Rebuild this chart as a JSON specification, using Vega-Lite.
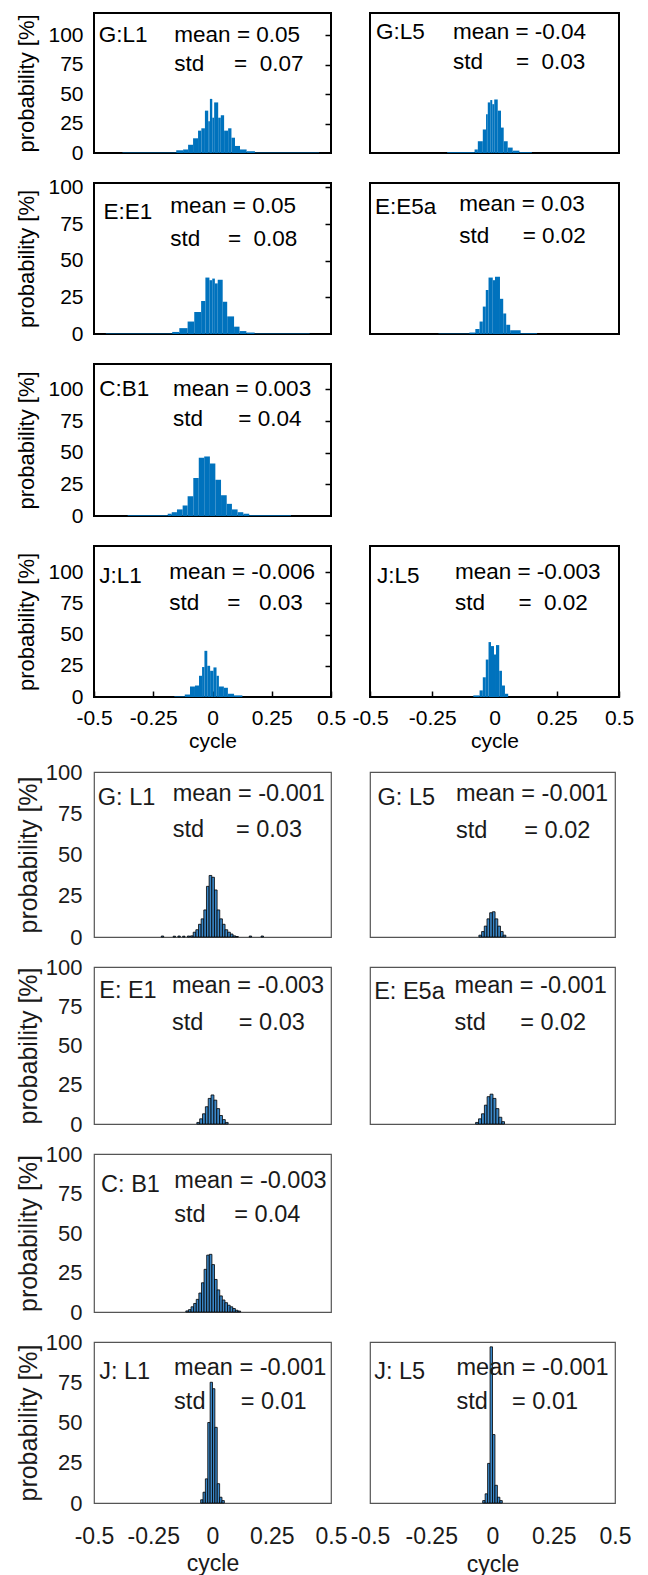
{
"$schema":"https://vega.github.io/schema/vega-lite/v6.json",
"padding":{"left":14,"top":12,"right":0,"bottom":0},
"config":{"font":"Liberation Sans","view":{"stroke":null},"axis":{"grid":false,"domain":false,"labelOverlap":false}},
"datasets":{
"hist":[
{"panel":"t1L","lo":-0.38,"hi":-0.153,"p":0.5},{"panel":"t1L","lo":-0.153,"hi":-0.124,"p":2.3},{"panel":"t1L","lo":-0.124,"hi":-0.103,"p":3},{"panel":"t1L","lo":-0.103,"hi":-0.082,"p":7},{"panel":"t1L","lo":-0.082,"hi":-0.061,"p":12.5},{"panel":"t1L","lo":-0.061,"hi":-0.047,"p":19},{"panel":"t1L","lo":-0.047,"hi":-0.032,"p":21},{"panel":"t1L","lo":-0.032,"hi":-0.018,"p":36},{"panel":"t1L","lo":-0.018,"hi":-0.011,"p":27},{"panel":"t1L","lo":-0.011,"hi":-0.001,"p":46},{"panel":"t1L","lo":-0.001,"hi":0.007,"p":30},{"panel":"t1L","lo":0.007,"hi":0.024,"p":43},{"panel":"t1L","lo":0.024,"hi":0.035,"p":30},{"panel":"t1L","lo":0.035,"hi":0.049,"p":32},{"panel":"t1L","lo":0.049,"hi":0.066,"p":19},{"panel":"t1L","lo":0.066,"hi":0.08,"p":21},{"panel":"t1L","lo":0.08,"hi":0.095,"p":13},{"panel":"t1L","lo":0.095,"hi":0.116,"p":6},{"panel":"t1L","lo":0.116,"hi":0.144,"p":3},{"panel":"t1L","lo":0.144,"hi":0.179,"p":1.5},{"panel":"t1L","lo":0.179,"hi":0.45,"p":0.5},
{"panel":"t1R","lo":-0.19,"hi":-0.08,"p":0.7},{"panel":"t1R","lo":-0.08,"hi":-0.067,"p":3},{"panel":"t1R","lo":-0.067,"hi":-0.047,"p":10},{"panel":"t1R","lo":-0.047,"hi":-0.034,"p":20},{"panel":"t1R","lo":-0.034,"hi":-0.027,"p":33},{"panel":"t1R","lo":-0.027,"hi":-0.017,"p":43},{"panel":"t1R","lo":-0.017,"hi":-0.009,"p":45},{"panel":"t1R","lo":-0.009,"hi":-0.001,"p":41.5},{"panel":"t1R","lo":-0.001,"hi":0.013,"p":45.5},{"panel":"t1R","lo":0.013,"hi":0.026,"p":36},{"panel":"t1R","lo":0.026,"hi":0.037,"p":21.6},{"panel":"t1R","lo":0.037,"hi":0.053,"p":10},{"panel":"t1R","lo":0.053,"hi":0.073,"p":4.6},{"panel":"t1R","lo":0.073,"hi":0.1,"p":2},{"panel":"t1R","lo":0.1,"hi":0.15,"p":0.7},
{"panel":"t2L","lo":-0.45,"hi":-0.17,"p":0.3},{"panel":"t2L","lo":-0.17,"hi":-0.14,"p":1.4},{"panel":"t2L","lo":-0.14,"hi":-0.105,"p":4},{"panel":"t2L","lo":-0.105,"hi":-0.077,"p":8.5},{"panel":"t2L","lo":-0.077,"hi":-0.048,"p":15},{"panel":"t2L","lo":-0.048,"hi":-0.03,"p":22.5},{"panel":"t2L","lo":-0.03,"hi":-0.013,"p":38.5},{"panel":"t2L","lo":-0.013,"hi":-0.001,"p":36.7},{"panel":"t2L","lo":-0.001,"hi":0.01,"p":37.8},{"panel":"t2L","lo":0.01,"hi":0.022,"p":34.5},{"panel":"t2L","lo":0.022,"hi":0.043,"p":37},{"panel":"t2L","lo":0.043,"hi":0.062,"p":22},{"panel":"t2L","lo":0.062,"hi":0.091,"p":12},{"panel":"t2L","lo":0.091,"hi":0.114,"p":5},{"panel":"t2L","lo":0.114,"hi":0.143,"p":2},{"panel":"t2L","lo":0.143,"hi":0.178,"p":1},{"panel":"t2L","lo":0.178,"hi":0.41,"p":0.3},
{"panel":"t2R","lo":-0.225,"hi":-0.101,"p":0.3},{"panel":"t2R","lo":-0.101,"hi":-0.077,"p":1},{"panel":"t2R","lo":-0.077,"hi":-0.06,"p":3.4},{"panel":"t2R","lo":-0.06,"hi":-0.047,"p":8.5},{"panel":"t2R","lo":-0.047,"hi":-0.035,"p":18.7},{"panel":"t2R","lo":-0.035,"hi":-0.024,"p":30},{"panel":"t2R","lo":-0.024,"hi":-0.007,"p":38.5},{"panel":"t2R","lo":-0.007,"hi":0.002,"p":36.7},{"panel":"t2R","lo":0.002,"hi":0.022,"p":39},{"panel":"t2R","lo":0.022,"hi":0.035,"p":24},{"panel":"t2R","lo":0.035,"hi":0.047,"p":14},{"panel":"t2R","lo":0.047,"hi":0.063,"p":6.3},{"panel":"t2R","lo":0.063,"hi":0.105,"p":2.5},{"panel":"t2R","lo":0.105,"hi":0.171,"p":0.5},
{"panel":"t3L","lo":-0.358,"hi":-0.189,"p":0.5},{"panel":"t3L","lo":-0.189,"hi":-0.172,"p":1.8},{"panel":"t3L","lo":-0.172,"hi":-0.15,"p":3},{"panel":"t3L","lo":-0.15,"hi":-0.126,"p":5.2},{"panel":"t3L","lo":-0.126,"hi":-0.105,"p":8.3},{"panel":"t3L","lo":-0.105,"hi":-0.081,"p":15.6},{"panel":"t3L","lo":-0.081,"hi":-0.058,"p":30},{"panel":"t3L","lo":-0.058,"hi":-0.035,"p":46},{"panel":"t3L","lo":-0.035,"hi":-0.011,"p":47},{"panel":"t3L","lo":-0.011,"hi":0.012,"p":41.5},{"panel":"t3L","lo":0.012,"hi":0.036,"p":28.6},{"panel":"t3L","lo":0.036,"hi":0.06,"p":16.4},{"panel":"t3L","lo":0.06,"hi":0.082,"p":9.6},{"panel":"t3L","lo":0.082,"hi":0.106,"p":5.2},{"panel":"t3L","lo":0.106,"hi":0.13,"p":3},{"panel":"t3L","lo":0.13,"hi":0.155,"p":1.8},{"panel":"t3L","lo":0.155,"hi":0.331,"p":0.6},
{"panel":"t4L","lo":-0.161,"hi":-0.117,"p":0.5},{"panel":"t4L","lo":-0.117,"hi":-0.095,"p":2},{"panel":"t4L","lo":-0.095,"hi":-0.074,"p":8.4},{"panel":"t4L","lo":-0.074,"hi":-0.057,"p":9.2},{"panel":"t4L","lo":-0.057,"hi":-0.044,"p":17},{"panel":"t4L","lo":-0.044,"hi":-0.034,"p":24},{"panel":"t4L","lo":-0.034,"hi":-0.022,"p":37},{"panel":"t4L","lo":-0.022,"hi":-0.01,"p":25},{"panel":"t4L","lo":-0.01,"hi":0.004,"p":21},{"panel":"t4L","lo":0.004,"hi":0.017,"p":23.7},{"panel":"t4L","lo":0.017,"hi":0.027,"p":17},{"panel":"t4L","lo":0.027,"hi":0.048,"p":8.4},{"panel":"t4L","lo":0.048,"hi":0.065,"p":7.4},{"panel":"t4L","lo":0.065,"hi":0.091,"p":2.6},{"panel":"t4L","lo":0.091,"hi":0.126,"p":1.3},
{"panel":"t4R","lo":-0.085,"hi":-0.06,"p":1.3},{"panel":"t4R","lo":-0.06,"hi":-0.047,"p":5.3},{"panel":"t4R","lo":-0.047,"hi":-0.035,"p":15.8},{"panel":"t4R","lo":-0.035,"hi":-0.024,"p":30},{"panel":"t4R","lo":-0.024,"hi":-0.014,"p":44},{"panel":"t4R","lo":-0.014,"hi":-0.002,"p":40.8},{"panel":"t4R","lo":-0.002,"hi":0.006,"p":34},{"panel":"t4R","lo":0.006,"hi":0.019,"p":41.6},{"panel":"t4R","lo":0.019,"hi":0.03,"p":21},{"panel":"t4R","lo":0.03,"hi":0.042,"p":9.2},{"panel":"t4R","lo":0.042,"hi":0.055,"p":2.6},
{"panel":"b1L","lo":-0.216,"hi":-0.206,"p":0.6},{"panel":"b1L","lo":-0.166,"hi":-0.156,"p":0.5},{"panel":"b1L","lo":-0.146,"hi":-0.136,"p":0.6},{"panel":"b1L","lo":-0.126,"hi":-0.116,"p":0.5},{"panel":"b1L","lo":-0.106,"hi":-0.096,"p":0.6},
{"panel":"b1L","lo":-0.0926,"hi":-0.0814,"p":0.7},{"panel":"b1L","lo":-0.0814,"hi":-0.0702,"p":2.9},{"panel":"b1L","lo":-0.0702,"hi":-0.059,"p":4.4},{"panel":"b1L","lo":-0.059,"hi":-0.0478,"p":7.7},{"panel":"b1L","lo":-0.0478,"hi":-0.0366,"p":11},{"panel":"b1L","lo":-0.0366,"hi":-0.0254,"p":16.4},{"panel":"b1L","lo":-0.0254,"hi":-0.0142,"p":30.7},{"panel":"b1L","lo":-0.0142,"hi":-0.003,"p":37.3},{"panel":"b1L","lo":-0.003,"hi":0.0082,"p":36.2},{"panel":"b1L","lo":0.0082,"hi":0.0194,"p":28.5},{"panel":"b1L","lo":0.0194,"hi":0.0306,"p":16.4},{"panel":"b1L","lo":0.0306,"hi":0.0418,"p":11},{"panel":"b1L","lo":0.0418,"hi":0.053,"p":7.7},{"panel":"b1L","lo":0.053,"hi":0.0642,"p":4.4},{"panel":"b1L","lo":0.0642,"hi":0.0754,"p":2.9},{"panel":"b1L","lo":0.0754,"hi":0.0866,"p":1.8},{"panel":"b1L","lo":0.0866,"hi":0.0978,"p":0.7},{"panel":"b1L","lo":0.0978,"hi":0.109,"p":0.3},{"panel":"b1L","lo":0.155,"hi":0.165,"p":0.6},{"panel":"b1L","lo":0.205,"hi":0.215,"p":0.6},
{"panel":"b1R","lo":-0.0555,"hi":-0.0445,"p":1.1},{"panel":"b1R","lo":-0.0445,"hi":-0.0335,"p":3.3},{"panel":"b1R","lo":-0.0335,"hi":-0.0225,"p":6.6},{"panel":"b1R","lo":-0.0225,"hi":-0.0115,"p":11},{"panel":"b1R","lo":-0.0115,"hi":-0.0005,"p":14.7},{"panel":"b1R","lo":-0.0005,"hi":0.0105,"p":15.3},{"panel":"b1R","lo":0.0105,"hi":0.0215,"p":11},{"panel":"b1R","lo":0.0215,"hi":0.0325,"p":6.6},{"panel":"b1R","lo":0.0325,"hi":0.0435,"p":3.3},{"panel":"b1R","lo":0.0435,"hi":0.0545,"p":1.1},
{"panel":"b2L","lo":-0.066,"hi":-0.054,"p":1},{"panel":"b2L","lo":-0.054,"hi":-0.042,"p":3.3},{"panel":"b2L","lo":-0.042,"hi":-0.03,"p":6.5},{"panel":"b2L","lo":-0.03,"hi":-0.018,"p":11},{"panel":"b2L","lo":-0.018,"hi":-0.006,"p":16.3},{"panel":"b2L","lo":-0.006,"hi":0.006,"p":18.5},{"panel":"b2L","lo":0.006,"hi":0.018,"p":15.2},{"panel":"b2L","lo":0.018,"hi":0.03,"p":9.8},{"panel":"b2L","lo":0.03,"hi":0.042,"p":5.4},{"panel":"b2L","lo":0.042,"hi":0.054,"p":2.8},{"panel":"b2L","lo":0.054,"hi":0.066,"p":1},
{"panel":"b2R","lo":-0.069,"hi":-0.057,"p":1},{"panel":"b2R","lo":-0.057,"hi":-0.045,"p":3.3},{"panel":"b2R","lo":-0.045,"hi":-0.033,"p":6.5},{"panel":"b2R","lo":-0.033,"hi":-0.022,"p":12},{"panel":"b2R","lo":-0.022,"hi":-0.01,"p":17.4},{"panel":"b2R","lo":-0.01,"hi":0.002,"p":19},{"panel":"b2R","lo":0.002,"hi":0.014,"p":16.3},{"panel":"b2R","lo":0.014,"hi":0.026,"p":9.8},{"panel":"b2R","lo":0.026,"hi":0.038,"p":4.3},{"panel":"b2R","lo":0.038,"hi":0.049,"p":1.5},
{"panel":"b3L","lo":-0.1125,"hi":-0.1015,"p":0.7},{"panel":"b3L","lo":-0.1015,"hi":-0.0905,"p":1.5},{"panel":"b3L","lo":-0.0905,"hi":-0.0795,"p":3.3},{"panel":"b3L","lo":-0.0795,"hi":-0.0685,"p":5.4},{"panel":"b3L","lo":-0.0685,"hi":-0.0575,"p":8},{"panel":"b3L","lo":-0.0575,"hi":-0.0465,"p":12},{"panel":"b3L","lo":-0.0465,"hi":-0.0355,"p":18.5},{"panel":"b3L","lo":-0.0355,"hi":-0.0245,"p":27},{"panel":"b3L","lo":-0.0245,"hi":-0.0135,"p":36},{"panel":"b3L","lo":-0.0135,"hi":-0.0025,"p":36.5},{"panel":"b3L","lo":-0.0025,"hi":0.0085,"p":30},{"panel":"b3L","lo":0.0085,"hi":0.0195,"p":20.6},{"panel":"b3L","lo":0.0195,"hi":0.0305,"p":14},{"panel":"b3L","lo":0.0305,"hi":0.0415,"p":10.2},{"panel":"b3L","lo":0.0415,"hi":0.0525,"p":7.6},{"panel":"b3L","lo":0.0525,"hi":0.0635,"p":5.9},{"panel":"b3L","lo":0.0635,"hi":0.0745,"p":4.3},{"panel":"b3L","lo":0.0745,"hi":0.0855,"p":3.3},{"panel":"b3L","lo":0.0855,"hi":0.0965,"p":2.2},{"panel":"b3L","lo":0.0965,"hi":0.1075,"p":1.1},{"panel":"b3L","lo":0.1075,"hi":0.1185,"p":0.6},
{"panel":"b4L","lo":-0.05,"hi":-0.04,"p":2},{"panel":"b4L","lo":-0.04,"hi":-0.03,"p":6.7},{"panel":"b4L","lo":-0.03,"hi":-0.02,"p":15},{"panel":"b4L","lo":-0.02,"hi":-0.01,"p":50},{"panel":"b4L","lo":-0.01,"hi":0,"p":75},{"panel":"b4L","lo":0,"hi":0.01,"p":71},{"panel":"b4L","lo":0.01,"hi":0.02,"p":47},{"panel":"b4L","lo":0.02,"hi":0.03,"p":12},{"panel":"b4L","lo":0.03,"hi":0.04,"p":3.6},{"panel":"b4L","lo":0.04,"hi":0.05,"p":1.5},
{"panel":"b4R","lo":-0.04,"hi":-0.03,"p":1.5},{"panel":"b4R","lo":-0.03,"hi":-0.02,"p":5.7},{"panel":"b4R","lo":-0.02,"hi":-0.01,"p":24.6},{"panel":"b4R","lo":-0.01,"hi":0,"p":97},{"panel":"b4R","lo":0,"hi":0.01,"p":42.5},{"panel":"b4R","lo":0.01,"hi":0.02,"p":11},{"panel":"b4R","lo":0.02,"hi":0.03,"p":3.6},{"panel":"b4R","lo":0.03,"hi":0.04,"p":1.5}
],
"notes":[
{"panel":"t1L","name":"G:L1","mean":"mean = 0.05","std":"std","val":"=\u00a0\u00a00.07"},
{"panel":"t1R","name":"G:L5","mean":"mean = -0.04","std":"std","val":"=\u00a0\u00a00.03"},
{"panel":"t2L","name":"E:E1","mean":"mean = 0.05","std":"std","val":"=\u00a0\u00a00.08"},
{"panel":"t2R","name":"E:E5a","mean":"mean = 0.03","std":"std","val":"= 0.02"},
{"panel":"t3L","name":"C:B1","mean":"mean = 0.003","std":"std","val":"= 0.04"},
{"panel":"t4L","name":"J:L1","mean":"mean = -0.006","std":"std","val":"=\u00a0\u00a0\u00a00.03"},
{"panel":"t4R","name":"J:L5","mean":"mean = -0.003","std":"std","val":"=\u00a0\u00a00.02"},
{"panel":"b1L","name":"G: L1","mean":"mean = -0.001","std":"std","val":"= 0.03"},
{"panel":"b1R","name":"G: L5","mean":"mean = -0.001","std":"std","val":"= 0.02"},
{"panel":"b2L","name":"E: E1","mean":"mean = -0.003","std":"std","val":"= 0.03"},
{"panel":"b2R","name":"E: E5a","mean":"mean = -0.001","std":"std","val":"= 0.02"},
{"panel":"b3L","name":"C: B1","mean":"mean = -0.003","std":"std","val":"= 0.04"},
{"panel":"b4L","name":"J: L1","mean":"mean = -0.001","std":"std","val":"= 0.01"},
{"panel":"b4R","name":"J: L5","mean":"mean = -0.001","std":"std","val":"= 0.01"}
]
},
"columns":2,
"align":"each",
"bounds":"flush",
"spacing":{"row":30,"column":39},
"concat":[
{"width":237,"height":140,"view":{"stroke":"#000","strokeWidth":2},"resolve":{"axis":{"x":"independent","y":"independent"}},"layer":[
{"data":{"name":"hist"},"transform":[{"filter":"datum.panel==='t1L'"}],"mark":{"type":"bar","color":"#0072BD"},"encoding":{"x":{"field":"lo","type":"quantitative","scale":{"domain":[-0.5,0.5],"nice":false,"zero":false},"axis":null},"x2":{"field":"hi"},"y":{"field":"p","type":"quantitative","scale":{"domain":[0,119],"nice":false},"axis":{"values":[0,25,50,75,100],"ticks":false,"labelFontSize":21,"labelPadding":11,"labelColor":"#000","title":"probability [%]","titleFontSize":22,"titleFontWeight":"normal","titleColor":"#000","titlePadding":9}},"y2":{"datum":0}}},
{"data":{"name":"notes"},"transform":[{"filter":"datum.panel==='t1L'"}],"mark":{"type":"text","align":"left","baseline":"middle","fontSize":22.5,"color":"#000"},"encoding":{"x":{"datum":-0.48,"type":"quantitative","axis":null},"y":{"datum":100,"type":"quantitative","axis":{"orient":"right","values":[25,50,75,100],"labels":false,"ticks":true,"tickSize":-6,"tickColor":"#000","tickWidth":1.5,"title":null}},"text":{"field":"name"}}},
{"data":{"name":"notes"},"transform":[{"filter":"datum.panel==='t1L'"}],"mark":{"type":"text","align":"left","baseline":"middle","fontSize":22.5,"color":"#000"},"encoding":{"x":{"datum":-0.161,"type":"quantitative","axis":null},"y":{"datum":100,"type":"quantitative","axis":null},"text":{"field":"mean"}}},
{"data":{"name":"notes"},"transform":[{"filter":"datum.panel==='t1L'"}],"mark":{"type":"text","align":"left","baseline":"middle","fontSize":22.5,"color":"#000"},"encoding":{"x":{"datum":-0.161,"type":"quantitative","axis":null},"y":{"datum":76,"type":"quantitative","axis":null},"text":{"field":"std"}}},
{"data":{"name":"notes"},"transform":[{"filter":"datum.panel==='t1L'"}],"mark":{"type":"text","align":"left","baseline":"middle","fontSize":22.5,"color":"#000"},"encoding":{"x":{"datum":0.091,"type":"quantitative","axis":null},"y":{"datum":76,"type":"quantitative","axis":null},"text":{"field":"val"}}}
]},
{"width":249,"height":140,"view":{"stroke":"#000","strokeWidth":2},"resolve":{"axis":{"x":"independent","y":"independent"}},"layer":[
{"data":{"name":"hist"},"transform":[{"filter":"datum.panel==='t1R'"}],"mark":{"type":"bar","color":"#0072BD"},"encoding":{"x":{"field":"lo","type":"quantitative","scale":{"domain":[-0.5,0.5],"nice":false,"zero":false},"axis":null},"x2":{"field":"hi"},"y":{"field":"p","type":"quantitative","scale":{"domain":[0,119],"nice":false},"axis":null},"y2":{"datum":0}}},
{"data":{"name":"notes"},"transform":[{"filter":"datum.panel==='t1R'"}],"mark":{"type":"text","align":"left","baseline":"middle","fontSize":22.5,"color":"#000"},"encoding":{"x":{"datum":-0.476,"type":"quantitative","axis":null},"y":{"datum":102.5,"type":"quantitative","axis":null},"text":{"field":"name"}}},
{"data":{"name":"notes"},"transform":[{"filter":"datum.panel==='t1R'"}],"mark":{"type":"text","align":"left","baseline":"middle","fontSize":22.5,"color":"#000"},"encoding":{"x":{"datum":-0.167,"type":"quantitative","axis":null},"y":{"datum":102.5,"type":"quantitative","axis":null},"text":{"field":"mean"}}},
{"data":{"name":"notes"},"transform":[{"filter":"datum.panel==='t1R'"}],"mark":{"type":"text","align":"left","baseline":"middle","fontSize":22.5,"color":"#000"},"encoding":{"x":{"datum":-0.167,"type":"quantitative","axis":null},"y":{"datum":77,"type":"quantitative","axis":null},"text":{"field":"std"}}},
{"data":{"name":"notes"},"transform":[{"filter":"datum.panel==='t1R'"}],"mark":{"type":"text","align":"left","baseline":"middle","fontSize":22.5,"color":"#000"},"encoding":{"x":{"datum":0.086,"type":"quantitative","axis":null},"y":{"datum":77,"type":"quantitative","axis":null},"text":{"field":"val"}}}
]},
{"width":237,"height":151,"view":{"stroke":"#000","strokeWidth":2},"resolve":{"axis":{"x":"independent","y":"independent"}},"layer":[
{"data":{"name":"hist"},"transform":[{"filter":"datum.panel==='t2L'"}],"mark":{"type":"bar","color":"#0072BD"},"encoding":{"x":{"field":"lo","type":"quantitative","scale":{"domain":[-0.5,0.5],"nice":false,"zero":false},"axis":null},"x2":{"field":"hi"},"y":{"field":"p","type":"quantitative","scale":{"domain":[0,103],"nice":false},"axis":{"values":[0,25,50,75,100],"ticks":false,"labelFontSize":21,"labelPadding":11,"labelColor":"#000","title":"probability [%]","titleFontSize":22,"titleFontWeight":"normal","titleColor":"#000","titlePadding":9}},"y2":{"datum":0}}},
{"data":{"name":"notes"},"transform":[{"filter":"datum.panel==='t2L'"}],"mark":{"type":"text","align":"left","baseline":"middle","fontSize":22.5,"color":"#000"},"encoding":{"x":{"datum":-0.46,"type":"quantitative","axis":null},"y":{"datum":83,"type":"quantitative","axis":{"orient":"right","values":[25,50,75,100],"labels":false,"ticks":true,"tickSize":-6,"tickColor":"#000","tickWidth":1.5,"title":null}},"text":{"field":"name"}}},
{"data":{"name":"notes"},"transform":[{"filter":"datum.panel==='t2L'"}],"mark":{"type":"text","align":"left","baseline":"middle","fontSize":22.5,"color":"#000"},"encoding":{"x":{"datum":-0.178,"type":"quantitative","axis":null},"y":{"datum":87.4,"type":"quantitative","axis":null},"text":{"field":"mean"}}},
{"data":{"name":"notes"},"transform":[{"filter":"datum.panel==='t2L'"}],"mark":{"type":"text","align":"left","baseline":"middle","fontSize":22.5,"color":"#000"},"encoding":{"x":{"datum":-0.178,"type":"quantitative","axis":null},"y":{"datum":65,"type":"quantitative","axis":null},"text":{"field":"std"}}},
{"data":{"name":"notes"},"transform":[{"filter":"datum.panel==='t2L'"}],"mark":{"type":"text","align":"left","baseline":"middle","fontSize":22.5,"color":"#000"},"encoding":{"x":{"datum":0.065,"type":"quantitative","axis":null},"y":{"datum":65,"type":"quantitative","axis":null},"text":{"field":"val"}}}
]},
{"width":249,"height":151,"view":{"stroke":"#000","strokeWidth":2},"resolve":{"axis":{"x":"independent","y":"independent"}},"layer":[
{"data":{"name":"hist"},"transform":[{"filter":"datum.panel==='t2R'"}],"mark":{"type":"bar","color":"#0072BD"},"encoding":{"x":{"field":"lo","type":"quantitative","scale":{"domain":[-0.5,0.5],"nice":false,"zero":false},"axis":null},"x2":{"field":"hi"},"y":{"field":"p","type":"quantitative","scale":{"domain":[0,103],"nice":false},"axis":null},"y2":{"datum":0}}},
{"data":{"name":"notes"},"transform":[{"filter":"datum.panel==='t2R'"}],"mark":{"type":"text","align":"left","baseline":"middle","fontSize":22.5,"color":"#000"},"encoding":{"x":{"datum":-0.48,"type":"quantitative","axis":null},"y":{"datum":86.3,"type":"quantitative","axis":null},"text":{"field":"name"}}},
{"data":{"name":"notes"},"transform":[{"filter":"datum.panel==='t2R'"}],"mark":{"type":"text","align":"left","baseline":"middle","fontSize":22.5,"color":"#000"},"encoding":{"x":{"datum":-0.142,"type":"quantitative","axis":null},"y":{"datum":88.5,"type":"quantitative","axis":null},"text":{"field":"mean"}}},
{"data":{"name":"notes"},"transform":[{"filter":"datum.panel==='t2R'"}],"mark":{"type":"text","align":"left","baseline":"middle","fontSize":22.5,"color":"#000"},"encoding":{"x":{"datum":-0.142,"type":"quantitative","axis":null},"y":{"datum":67,"type":"quantitative","axis":null},"text":{"field":"std"}}},
{"data":{"name":"notes"},"transform":[{"filter":"datum.panel==='t2R'"}],"mark":{"type":"text","align":"left","baseline":"middle","fontSize":22.5,"color":"#000"},"encoding":{"x":{"datum":0.113,"type":"quantitative","axis":null},"y":{"datum":67,"type":"quantitative","axis":null},"text":{"field":"val"}}}
]},
{"width":237,"height":152,"view":{"stroke":"#000","strokeWidth":2},"resolve":{"axis":{"x":"independent","y":"independent"}},"layer":[
{"data":{"name":"hist"},"transform":[{"filter":"datum.panel==='t3L'"}],"mark":{"type":"bar","color":"#0072BD"},"encoding":{"x":{"field":"lo","type":"quantitative","scale":{"domain":[-0.5,0.5],"nice":false,"zero":false},"axis":null},"x2":{"field":"hi"},"y":{"field":"p","type":"quantitative","scale":{"domain":[0,120],"nice":false},"axis":{"values":[0,25,50,75,100],"ticks":false,"labelFontSize":21,"labelPadding":11,"labelColor":"#000","title":"probability [%]","titleFontSize":22,"titleFontWeight":"normal","titleColor":"#000","titlePadding":9}},"y2":{"datum":0}}},
{"data":{"name":"notes"},"transform":[{"filter":"datum.panel==='t3L'"}],"mark":{"type":"text","align":"left","baseline":"middle","fontSize":22.5,"color":"#000"},"encoding":{"x":{"datum":-0.478,"type":"quantitative","axis":null},"y":{"datum":100,"type":"quantitative","axis":{"orient":"right","values":[25,50,75,100],"labels":false,"ticks":true,"tickSize":-6,"tickColor":"#000","tickWidth":1.5,"title":null}},"text":{"field":"name"}}},
{"data":{"name":"notes"},"transform":[{"filter":"datum.panel==='t3L'"}],"mark":{"type":"text","align":"left","baseline":"middle","fontSize":22.5,"color":"#000"},"encoding":{"x":{"datum":-0.167,"type":"quantitative","axis":null},"y":{"datum":100,"type":"quantitative","axis":null},"text":{"field":"mean"}}},
{"data":{"name":"notes"},"transform":[{"filter":"datum.panel==='t3L'"}],"mark":{"type":"text","align":"left","baseline":"middle","fontSize":22.5,"color":"#000"},"encoding":{"x":{"datum":-0.167,"type":"quantitative","axis":null},"y":{"datum":76.6,"type":"quantitative","axis":null},"text":{"field":"std"}}},
{"data":{"name":"notes"},"transform":[{"filter":"datum.panel==='t3L'"}],"mark":{"type":"text","align":"left","baseline":"middle","fontSize":22.5,"color":"#000"},"encoding":{"x":{"datum":0.109,"type":"quantitative","axis":null},"y":{"datum":76.6,"type":"quantitative","axis":null},"text":{"field":"val"}}}
]},
{"width":249,"height":152,"data":{"values":[]},"mark":"text","encoding":{}},
{"width":237,"height":151,"view":{"stroke":"#000","strokeWidth":2},"resolve":{"axis":{"x":"independent","y":"independent"}},"layer":[
{"data":{"name":"hist"},"transform":[{"filter":"datum.panel==='t4L'"}],"mark":{"type":"bar","color":"#0072BD"},"encoding":{"x":{"field":"lo","type":"quantitative","scale":{"domain":[-0.5,0.5],"nice":false,"zero":false},"axis":{"values":[-0.5,-0.25,0,0.25,0.5],"labelExpr":"toString(datum.value)","labelFlush":false,"ticks":true,"tickSize":-6,"tickColor":"#000","tickWidth":1.5,"labelFontSize":21,"labelPadding":16,"labelColor":"#000","title":"cycle","titleFontSize":21,"titleFontWeight":"normal","titleColor":"#000","titlePadding":2}},"x2":{"field":"hi"},"y":{"field":"p","type":"quantitative","scale":{"domain":[0,121],"nice":false},"axis":{"values":[0,25,50,75,100],"ticks":false,"labelFontSize":21,"labelPadding":11,"labelColor":"#000","title":"probability [%]","titleFontSize":22,"titleFontWeight":"normal","titleColor":"#000","titlePadding":9}},"y2":{"datum":0}}},
{"data":{"name":"notes"},"transform":[{"filter":"datum.panel==='t4L'"}],"mark":{"type":"text","align":"left","baseline":"middle","fontSize":22.5,"color":"#000"},"encoding":{"x":{"datum":-0.478,"type":"quantitative","axis":null},"y":{"datum":97,"type":"quantitative","axis":{"orient":"right","values":[25,50,75,100],"labels":false,"ticks":true,"tickSize":-6,"tickColor":"#000","tickWidth":1.5,"title":null}},"text":{"field":"name"}}},
{"data":{"name":"notes"},"transform":[{"filter":"datum.panel==='t4L'"}],"mark":{"type":"text","align":"left","baseline":"middle","fontSize":22.5,"color":"#000"},"encoding":{"x":{"datum":-0.182,"type":"quantitative","axis":null},"y":{"datum":100.5,"type":"quantitative","axis":null},"text":{"field":"mean"}}},
{"data":{"name":"notes"},"transform":[{"filter":"datum.panel==='t4L'"}],"mark":{"type":"text","align":"left","baseline":"middle","fontSize":22.5,"color":"#000"},"encoding":{"x":{"datum":-0.182,"type":"quantitative","axis":null},"y":{"datum":75,"type":"quantitative","axis":null},"text":{"field":"std"}}},
{"data":{"name":"notes"},"transform":[{"filter":"datum.panel==='t4L'"}],"mark":{"type":"text","align":"left","baseline":"middle","fontSize":22.5,"color":"#000"},"encoding":{"x":{"datum":0.062,"type":"quantitative","axis":null},"y":{"datum":75,"type":"quantitative","axis":null},"text":{"field":"val"}}}
]},
{"width":249,"height":151,"view":{"stroke":"#000","strokeWidth":2},"resolve":{"axis":{"x":"independent","y":"independent"}},"layer":[
{"data":{"name":"hist"},"transform":[{"filter":"datum.panel==='t4R'"}],"mark":{"type":"bar","color":"#0072BD"},"encoding":{"x":{"field":"lo","type":"quantitative","scale":{"domain":[-0.5,0.5],"nice":false,"zero":false},"axis":{"values":[-0.5,-0.25,0,0.25,0.5],"labelExpr":"toString(datum.value)","labelFlush":false,"ticks":true,"tickSize":-6,"tickColor":"#000","tickWidth":1.5,"labelFontSize":21,"labelPadding":16,"labelColor":"#000","title":"cycle","titleFontSize":21,"titleFontWeight":"normal","titleColor":"#000","titlePadding":2}},"x2":{"field":"hi"},"y":{"field":"p","type":"quantitative","scale":{"domain":[0,121],"nice":false},"axis":null},"y2":{"datum":0}}},
{"data":{"name":"notes"},"transform":[{"filter":"datum.panel==='t4R'"}],"mark":{"type":"text","align":"left","baseline":"middle","fontSize":22.5,"color":"#000"},"encoding":{"x":{"datum":-0.472,"type":"quantitative","axis":null},"y":{"datum":97,"type":"quantitative","axis":null},"text":{"field":"name"}}},
{"data":{"name":"notes"},"transform":[{"filter":"datum.panel==='t4R'"}],"mark":{"type":"text","align":"left","baseline":"middle","fontSize":22.5,"color":"#000"},"encoding":{"x":{"datum":-0.159,"type":"quantitative","axis":null},"y":{"datum":100.5,"type":"quantitative","axis":null},"text":{"field":"mean"}}},
{"data":{"name":"notes"},"transform":[{"filter":"datum.panel==='t4R'"}],"mark":{"type":"text","align":"left","baseline":"middle","fontSize":22.5,"color":"#000"},"encoding":{"x":{"datum":-0.159,"type":"quantitative","axis":null},"y":{"datum":75,"type":"quantitative","axis":null},"text":{"field":"std"}}},
{"data":{"name":"notes"},"transform":[{"filter":"datum.panel==='t4R'"}],"mark":{"type":"text","align":"left","baseline":"middle","fontSize":22.5,"color":"#000"},"encoding":{"x":{"datum":0.096,"type":"quantitative","axis":null},"y":{"datum":75,"type":"quantitative","axis":null},"text":{"field":"val"}}}
]},
{"width":237,"height":15,"data":{"values":[]},"mark":"text","encoding":{}},
{"width":249,"height":15,"data":{"values":[]},"mark":"text","encoding":{}},
{"width":237,"height":165,"view":{"stroke":"#555","strokeWidth":1.2},"resolve":{"axis":{"x":"independent","y":"independent"}},"layer":[
{"data":{"name":"hist"},"transform":[{"filter":"datum.panel==='b1L'"}],"mark":{"type":"bar","color":"#3a86c6","stroke":"#000","strokeWidth":0.8},"encoding":{"x":{"field":"lo","type":"quantitative","scale":{"domain":[-0.5,0.5],"nice":false,"zero":false},"axis":null},"x2":{"field":"hi"},"y":{"field":"p","type":"quantitative","scale":{"domain":[0,100],"nice":false},"axis":{"values":[0,25,50,75,100],"ticks":false,"labelFontSize":22,"labelPadding":12,"labelColor":"#1a1a1a","title":"probability [%]","titleFontSize":25,"titleFontWeight":"normal","titleColor":"#1a1a1a","titlePadding":4}},"y2":{"datum":0}}},
{"data":{"name":"notes"},"transform":[{"filter":"datum.panel==='b1L'"}],"mark":{"type":"text","align":"left","baseline":"middle","fontSize":23.5,"color":"#1a1a1a"},"encoding":{"x":{"datum":-0.484,"type":"quantitative","axis":null},"y":{"datum":84.5,"type":"quantitative","axis":null},"text":{"field":"name"}}},
{"data":{"name":"notes"},"transform":[{"filter":"datum.panel==='b1L'"}],"mark":{"type":"text","align":"left","baseline":"middle","fontSize":23.5,"color":"#1a1a1a"},"encoding":{"x":{"datum":-0.168,"type":"quantitative","axis":null},"y":{"datum":86.6,"type":"quantitative","axis":null},"text":{"field":"mean"}}},
{"data":{"name":"notes"},"transform":[{"filter":"datum.panel==='b1L'"}],"mark":{"type":"text","align":"left","baseline":"middle","fontSize":23.5,"color":"#1a1a1a"},"encoding":{"x":{"datum":-0.168,"type":"quantitative","axis":null},"y":{"datum":65,"type":"quantitative","axis":null},"text":{"field":"std"}}},
{"data":{"name":"notes"},"transform":[{"filter":"datum.panel==='b1L'"}],"mark":{"type":"text","align":"left","baseline":"middle","fontSize":23.5,"color":"#1a1a1a"},"encoding":{"x":{"datum":0.099,"type":"quantitative","axis":null},"y":{"datum":65,"type":"quantitative","axis":null},"text":{"field":"val"}}}
]},
{"width":245,"height":165,"view":{"stroke":"#555","strokeWidth":1.2},"resolve":{"axis":{"x":"independent","y":"independent"}},"layer":[
{"data":{"name":"hist"},"transform":[{"filter":"datum.panel==='b1R'"}],"mark":{"type":"bar","color":"#3a86c6","stroke":"#000","strokeWidth":0.8},"encoding":{"x":{"field":"lo","type":"quantitative","scale":{"domain":[-0.5,0.5],"nice":false,"zero":false},"axis":null},"x2":{"field":"hi"},"y":{"field":"p","type":"quantitative","scale":{"domain":[0,100],"nice":false},"axis":null},"y2":{"datum":0}}},
{"data":{"name":"notes"},"transform":[{"filter":"datum.panel==='b1R'"}],"mark":{"type":"text","align":"left","baseline":"middle","fontSize":23.5,"color":"#1a1a1a"},"encoding":{"x":{"datum":-0.469,"type":"quantitative","axis":null},"y":{"datum":84.4,"type":"quantitative","axis":null},"text":{"field":"name"}}},
{"data":{"name":"notes"},"transform":[{"filter":"datum.panel==='b1R'"}],"mark":{"type":"text","align":"left","baseline":"middle","fontSize":23.5,"color":"#1a1a1a"},"encoding":{"x":{"datum":-0.149,"type":"quantitative","axis":null},"y":{"datum":86.6,"type":"quantitative","axis":null},"text":{"field":"mean"}}},
{"data":{"name":"notes"},"transform":[{"filter":"datum.panel==='b1R'"}],"mark":{"type":"text","align":"left","baseline":"middle","fontSize":23.5,"color":"#1a1a1a"},"encoding":{"x":{"datum":-0.149,"type":"quantitative","axis":null},"y":{"datum":64.3,"type":"quantitative","axis":null},"text":{"field":"std"}}},
{"data":{"name":"notes"},"transform":[{"filter":"datum.panel==='b1R'"}],"mark":{"type":"text","align":"left","baseline":"middle","fontSize":23.5,"color":"#1a1a1a"},"encoding":{"x":{"datum":0.13,"type":"quantitative","axis":null},"y":{"datum":64.3,"type":"quantitative","axis":null},"text":{"field":"val"}}}
]},
{"width":237,"height":157,"view":{"stroke":"#555","strokeWidth":1.2},"resolve":{"axis":{"x":"independent","y":"independent"}},"layer":[
{"data":{"name":"hist"},"transform":[{"filter":"datum.panel==='b2L'"}],"mark":{"type":"bar","color":"#3a86c6","stroke":"#000","strokeWidth":0.8},"encoding":{"x":{"field":"lo","type":"quantitative","scale":{"domain":[-0.5,0.5],"nice":false,"zero":false},"axis":null},"x2":{"field":"hi"},"y":{"field":"p","type":"quantitative","scale":{"domain":[0,100],"nice":false},"axis":{"values":[0,25,50,75,100],"ticks":false,"labelFontSize":22,"labelPadding":12,"labelColor":"#1a1a1a","title":"probability [%]","titleFontSize":25,"titleFontWeight":"normal","titleColor":"#1a1a1a","titlePadding":4}},"y2":{"datum":0}}},
{"data":{"name":"notes"},"transform":[{"filter":"datum.panel==='b2L'"}],"mark":{"type":"text","align":"left","baseline":"middle","fontSize":23.5,"color":"#1a1a1a"},"encoding":{"x":{"datum":-0.478,"type":"quantitative","axis":null},"y":{"datum":85,"type":"quantitative","axis":null},"text":{"field":"name"}}},
{"data":{"name":"notes"},"transform":[{"filter":"datum.panel==='b2L'"}],"mark":{"type":"text","align":"left","baseline":"middle","fontSize":23.5,"color":"#1a1a1a"},"encoding":{"x":{"datum":-0.171,"type":"quantitative","axis":null},"y":{"datum":88,"type":"quantitative","axis":null},"text":{"field":"mean"}}},
{"data":{"name":"notes"},"transform":[{"filter":"datum.panel==='b2L'"}],"mark":{"type":"text","align":"left","baseline":"middle","fontSize":23.5,"color":"#1a1a1a"},"encoding":{"x":{"datum":-0.171,"type":"quantitative","axis":null},"y":{"datum":64.5,"type":"quantitative","axis":null},"text":{"field":"std"}}},
{"data":{"name":"notes"},"transform":[{"filter":"datum.panel==='b2L'"}],"mark":{"type":"text","align":"left","baseline":"middle","fontSize":23.5,"color":"#1a1a1a"},"encoding":{"x":{"datum":0.111,"type":"quantitative","axis":null},"y":{"datum":64.5,"type":"quantitative","axis":null},"text":{"field":"val"}}}
]},
{"width":245,"height":157,"view":{"stroke":"#555","strokeWidth":1.2},"resolve":{"axis":{"x":"independent","y":"independent"}},"layer":[
{"data":{"name":"hist"},"transform":[{"filter":"datum.panel==='b2R'"}],"mark":{"type":"bar","color":"#3a86c6","stroke":"#000","strokeWidth":0.8},"encoding":{"x":{"field":"lo","type":"quantitative","scale":{"domain":[-0.5,0.5],"nice":false,"zero":false},"axis":null},"x2":{"field":"hi"},"y":{"field":"p","type":"quantitative","scale":{"domain":[0,100],"nice":false},"axis":null},"y2":{"datum":0}}},
{"data":{"name":"notes"},"transform":[{"filter":"datum.panel==='b2R'"}],"mark":{"type":"text","align":"left","baseline":"middle","fontSize":23.5,"color":"#1a1a1a"},"encoding":{"x":{"datum":-0.483,"type":"quantitative","axis":null},"y":{"datum":84,"type":"quantitative","axis":null},"text":{"field":"name"}}},
{"data":{"name":"notes"},"transform":[{"filter":"datum.panel==='b2R'"}],"mark":{"type":"text","align":"left","baseline":"middle","fontSize":23.5,"color":"#1a1a1a"},"encoding":{"x":{"datum":-0.155,"type":"quantitative","axis":null},"y":{"datum":88,"type":"quantitative","axis":null},"text":{"field":"mean"}}},
{"data":{"name":"notes"},"transform":[{"filter":"datum.panel==='b2R'"}],"mark":{"type":"text","align":"left","baseline":"middle","fontSize":23.5,"color":"#1a1a1a"},"encoding":{"x":{"datum":-0.155,"type":"quantitative","axis":null},"y":{"datum":64.5,"type":"quantitative","axis":null},"text":{"field":"std"}}},
{"data":{"name":"notes"},"transform":[{"filter":"datum.panel==='b2R'"}],"mark":{"type":"text","align":"left","baseline":"middle","fontSize":23.5,"color":"#1a1a1a"},"encoding":{"x":{"datum":0.113,"type":"quantitative","axis":null},"y":{"datum":64.5,"type":"quantitative","axis":null},"text":{"field":"val"}}}
]},
{"width":237,"height":158,"view":{"stroke":"#555","strokeWidth":1.2},"resolve":{"axis":{"x":"independent","y":"independent"}},"layer":[
{"data":{"name":"hist"},"transform":[{"filter":"datum.panel==='b3L'"}],"mark":{"type":"bar","color":"#3a86c6","stroke":"#000","strokeWidth":0.8},"encoding":{"x":{"field":"lo","type":"quantitative","scale":{"domain":[-0.5,0.5],"nice":false,"zero":false},"axis":null},"x2":{"field":"hi"},"y":{"field":"p","type":"quantitative","scale":{"domain":[0,100],"nice":false},"axis":{"values":[0,25,50,75,100],"ticks":false,"labelFontSize":22,"labelPadding":12,"labelColor":"#1a1a1a","title":"probability [%]","titleFontSize":25,"titleFontWeight":"normal","titleColor":"#1a1a1a","titlePadding":4}},"y2":{"datum":0}}},
{"data":{"name":"notes"},"transform":[{"filter":"datum.panel==='b3L'"}],"mark":{"type":"text","align":"left","baseline":"middle","fontSize":23.5,"color":"#1a1a1a"},"encoding":{"x":{"datum":-0.47,"type":"quantitative","axis":null},"y":{"datum":80.6,"type":"quantitative","axis":null},"text":{"field":"name"}}},
{"data":{"name":"notes"},"transform":[{"filter":"datum.panel==='b3L'"}],"mark":{"type":"text","align":"left","baseline":"middle","fontSize":23.5,"color":"#1a1a1a"},"encoding":{"x":{"datum":-0.161,"type":"quantitative","axis":null},"y":{"datum":82.8,"type":"quantitative","axis":null},"text":{"field":"mean"}}},
{"data":{"name":"notes"},"transform":[{"filter":"datum.panel==='b3L'"}],"mark":{"type":"text","align":"left","baseline":"middle","fontSize":23.5,"color":"#1a1a1a"},"encoding":{"x":{"datum":-0.161,"type":"quantitative","axis":null},"y":{"datum":61.3,"type":"quantitative","axis":null},"text":{"field":"std"}}},
{"data":{"name":"notes"},"transform":[{"filter":"datum.panel==='b3L'"}],"mark":{"type":"text","align":"left","baseline":"middle","fontSize":23.5,"color":"#1a1a1a"},"encoding":{"x":{"datum":0.092,"type":"quantitative","axis":null},"y":{"datum":61.3,"type":"quantitative","axis":null},"text":{"field":"val"}}}
]},
{"width":245,"height":158,"data":{"values":[]},"mark":"text","encoding":{}},
{"width":237,"height":161,"view":{"stroke":"#555","strokeWidth":1.2},"resolve":{"axis":{"x":"independent","y":"independent"}},"layer":[
{"data":{"name":"hist"},"transform":[{"filter":"datum.panel==='b4L'"}],"mark":{"type":"bar","color":"#3a86c6","stroke":"#000","strokeWidth":0.8},"encoding":{"x":{"field":"lo","type":"quantitative","scale":{"domain":[-0.5,0.5],"nice":false,"zero":false},"axis":{"values":[-0.5,-0.25,0,0.25,0.5],"labelExpr":"toString(datum.value)","labelFlush":false,"ticks":false,"labelFontSize":23,"labelPadding":22,"labelColor":"#1a1a1a","title":"cycle","titleFontSize":23,"titleFontWeight":"normal","titleColor":"#1a1a1a","titlePadding":4}},"x2":{"field":"hi"},"y":{"field":"p","type":"quantitative","scale":{"domain":[0,100],"nice":false},"axis":{"values":[0,25,50,75,100],"ticks":false,"labelFontSize":22,"labelPadding":12,"labelColor":"#1a1a1a","title":"probability [%]","titleFontSize":25,"titleFontWeight":"normal","titleColor":"#1a1a1a","titlePadding":4}},"y2":{"datum":0}}},
{"data":{"name":"notes"},"transform":[{"filter":"datum.panel==='b4L'"}],"mark":{"type":"text","align":"left","baseline":"middle","fontSize":23.5,"color":"#1a1a1a"},"encoding":{"x":{"datum":-0.478,"type":"quantitative","axis":null},"y":{"datum":81.5,"type":"quantitative","axis":null},"text":{"field":"name"}}},
{"data":{"name":"notes"},"transform":[{"filter":"datum.panel==='b4L'"}],"mark":{"type":"text","align":"left","baseline":"middle","fontSize":23.5,"color":"#1a1a1a"},"encoding":{"x":{"datum":-0.162,"type":"quantitative","axis":null},"y":{"datum":83.6,"type":"quantitative","axis":null},"text":{"field":"mean"}}},
{"data":{"name":"notes"},"transform":[{"filter":"datum.panel==='b4L'"}],"mark":{"type":"text","align":"left","baseline":"middle","fontSize":23.5,"color":"#1a1a1a"},"encoding":{"x":{"datum":-0.162,"type":"quantitative","axis":null},"y":{"datum":62.5,"type":"quantitative","axis":null},"text":{"field":"std"}}},
{"data":{"name":"notes"},"transform":[{"filter":"datum.panel==='b4L'"}],"mark":{"type":"text","align":"left","baseline":"middle","fontSize":23.5,"color":"#1a1a1a"},"encoding":{"x":{"datum":0.119,"type":"quantitative","axis":null},"y":{"datum":62.5,"type":"quantitative","axis":null},"text":{"field":"val"}}}
]},
{"width":245,"height":161,"view":{"stroke":"#555","strokeWidth":1.2},"resolve":{"axis":{"x":"independent","y":"independent"}},"layer":[
{"data":{"name":"hist"},"transform":[{"filter":"datum.panel==='b4R'"}],"mark":{"type":"bar","color":"#3a86c6","stroke":"#000","strokeWidth":0.8},"encoding":{"x":{"field":"lo","type":"quantitative","scale":{"domain":[-0.5,0.5],"nice":false,"zero":false},"axis":{"values":[-0.5,-0.25,0,0.25,0.5],"labelExpr":"toString(datum.value)","labelFlush":false,"ticks":false,"labelFontSize":23,"labelPadding":22,"labelColor":"#1a1a1a","title":"cycle","titleFontSize":23,"titleFontWeight":"normal","titleColor":"#1a1a1a","titlePadding":5}},"x2":{"field":"hi"},"y":{"field":"p","type":"quantitative","scale":{"domain":[0,100],"nice":false},"axis":null},"y2":{"datum":0}}},
{"data":{"name":"notes"},"transform":[{"filter":"datum.panel==='b4R'"}],"mark":{"type":"text","align":"left","baseline":"middle","fontSize":23.5,"color":"#1a1a1a"},"encoding":{"x":{"datum":-0.483,"type":"quantitative","axis":null},"y":{"datum":81.5,"type":"quantitative","axis":null},"text":{"field":"name"}}},
{"data":{"name":"notes"},"transform":[{"filter":"datum.panel==='b4R'"}],"mark":{"type":"text","align":"left","baseline":"middle","fontSize":23.5,"color":"#1a1a1a"},"encoding":{"x":{"datum":-0.147,"type":"quantitative","axis":null},"y":{"datum":83.6,"type":"quantitative","axis":null},"text":{"field":"mean"}}},
{"data":{"name":"notes"},"transform":[{"filter":"datum.panel==='b4R'"}],"mark":{"type":"text","align":"left","baseline":"middle","fontSize":23.5,"color":"#1a1a1a"},"encoding":{"x":{"datum":-0.147,"type":"quantitative","axis":null},"y":{"datum":62.5,"type":"quantitative","axis":null},"text":{"field":"std"}}},
{"data":{"name":"notes"},"transform":[{"filter":"datum.panel==='b4R'"}],"mark":{"type":"text","align":"left","baseline":"middle","fontSize":23.5,"color":"#1a1a1a"},"encoding":{"x":{"datum":0.08,"type":"quantitative","axis":null},"y":{"datum":62.5,"type":"quantitative","axis":null},"text":{"field":"val"}}}
]}
]
}
